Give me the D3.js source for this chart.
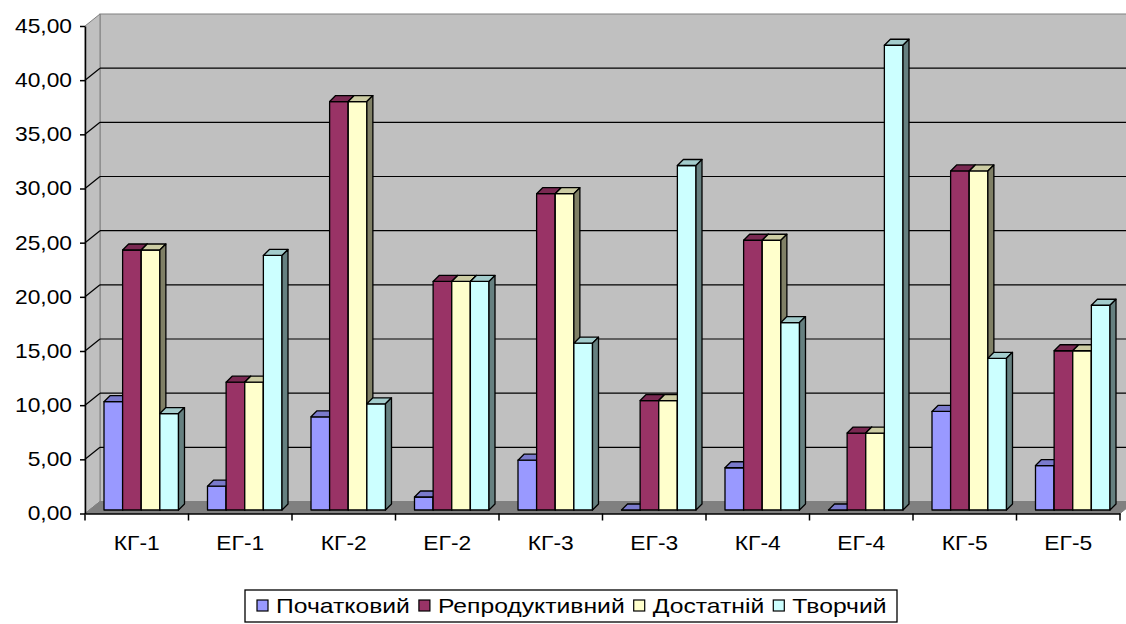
<!DOCTYPE html>
<html>
<head>
<meta charset="utf-8">
<script src="https://cdn.jsdelivr.net/npm/d3@7"></script>
<style>
  html, body { margin: 0; padding: 0; background: #ffffff; }
  svg { display: block; font-family: Arial, "Liberation Sans", sans-serif; }
</style>
</head>
<body>
<svg id="chart" width="1126" height="624"></svg>
<script>
// Groups: control (КГ) and experimental (ЕГ) groups, 1..5
const categories = ["КГ-1", "ЕГ-1", "КГ-2", "ЕГ-2", "КГ-3", "ЕГ-3", "КГ-4", "ЕГ-4", "КГ-5", "ЕГ-5"];
const seriesNames = ["Початковий", "Репродуктивний", "Достатній", "Творчий"];

// Share of students at each level, %
const initialLevel      = [10.0, 2.2, 8.6, 1.2, 4.6, 0.0, 3.9, 0.0, 9.1, 4.1];
const reproductiveLevel = [24.0, 11.8, 37.7, 21.1, 29.2, 10.1, 24.9, 7.1, 31.3, 14.7];
const sufficientLevel   = [24.0, 11.8, 37.7, 21.1, 29.2, 10.1, 24.9, 7.1, 31.3, 14.7];
const creativeLevel     = [8.9, 23.5, 9.8, 21.1, 15.4, 31.8, 17.3, 42.9, 14.0, 18.9];

const yTicks = [0, 5, 10, 15, 20, 25, 30, 35, 40, 45];

// Face colours: front, top, side
const palette = [
  { front: "#9999ff", top: "#7a7acc", side: "#4d4d80" },
  { front: "#993366", top: "#7a2952", side: "#4d1a33" },
  { front: "#ffffcc", top: "#cccca3", side: "#808066" },
  { front: "#ccffff", top: "#a3cccc", side: "#668080" }
];

const seriesValues = [initialLevel, reproductiveLevel, sufficientLevel, creativeLevel];

const svg = d3.select("#chart");

// Oblique projection settings
const WALL_DX = 15, WALL_DY = -12;     // depth of the walls/floor
const PLANE_DX = 4.5, PLANE_DY = -3.5; // plane where the bar fronts stand
const BAR_DX = 6, BAR_DY = -6;         // depth of each bar

// Text is drawn slightly widened
const FONT_SIZE = 20, STRETCH = 1.14;

const x = d3.scaleBand().domain(categories).range([85, 1120]).padding(0);
const groupPad = 14.5;
const xs = d3.scaleBand().domain(seriesNames).range([groupPad, x.bandwidth() - groupPad]).padding(0);
const y = d3.scaleLinear().domain([0, 45]).range([513.5, 26]);

const x0 = x.range()[0], x1 = x.range()[1];
const yBase = y(0), yTop = y(45);

const fmt = v => d3.format(".2f")(v).replace(".", ",");

const poly = pts => pts.map(p => p.join(",")).join(" ");

// Back wall
svg.append("rect")
  .attr("x", x0 + WALL_DX).attr("y", yTop + WALL_DY)
  .attr("width", x1 - x0).attr("height", yBase - yTop)
  .attr("fill", "#c0c0c0").attr("stroke", "#808080").attr("stroke-width", 1);

// Side wall
svg.append("polygon")
  .attr("points", poly([[x0, yTop], [x0 + WALL_DX, yTop + WALL_DY], [x0 + WALL_DX, yBase + WALL_DY], [x0, yBase]]))
  .attr("fill", "#c0c0c0").attr("stroke", "#808080").attr("stroke-width", 1);

// Gridlines on the back wall and the side wall
const grid = svg.append("g").attr("class", "grid");
yTicks.filter(t => t > 0 && t < 45).forEach(t => {
  grid.append("line")
    .attr("x1", x0 + WALL_DX).attr("x2", x1 + WALL_DX)
    .attr("y1", y(t) + WALL_DY).attr("y2", y(t) + WALL_DY)
    .attr("stroke", "#000").attr("stroke-width", 1.2);
  grid.append("line")
    .attr("x1", x0).attr("x2", x0 + WALL_DX)
    .attr("y1", y(t)).attr("y2", y(t) + WALL_DY)
    .attr("stroke", "#000").attr("stroke-width", 1.2);
});

// Floor
svg.append("polygon")
  .attr("points", poly([[x0, yBase], [x0 + WALL_DX, yBase + WALL_DY], [x1 + WALL_DX, yBase + WALL_DY], [x1, yBase]]))
  .attr("fill", "#808080").attr("stroke", "#808080").attr("stroke-width", 1);

// Bars, drawn left to right so each front face hides the neighbour's side
const bars = svg.append("g").attr("class", "bars");
categories.forEach((cat, ci) => {
  seriesNames.forEach((name, si) => {
    const v = seriesValues[si][ci];
    const c = palette[si];
    const left = x(cat) + xs(name) + PLANE_DX;
    const right = left + xs.bandwidth();
    const bottom = y(0) + PLANE_DY;
    const top = y(v) + PLANE_DY;
    const g = bars.append("g");
    g.append("polygon")
      .attr("points", poly([[left, top], [right, top], [right, bottom], [left, bottom]]))
      .attr("fill", c.front).attr("stroke", "#000").attr("stroke-width", 1.3).attr("stroke-linejoin", "round");
    g.append("polygon")
      .attr("points", poly([[left, top], [left + BAR_DX, top + BAR_DY], [right + BAR_DX, top + BAR_DY], [right, top]]))
      .attr("fill", c.top).attr("stroke", "#000").attr("stroke-width", 1.3).attr("stroke-linejoin", "round");
    g.append("polygon")
      .attr("points", poly([[right, top], [right + BAR_DX, top + BAR_DY], [right + BAR_DX, bottom + BAR_DY], [right, bottom]]))
      .attr("fill", c.side).attr("stroke", "#000").attr("stroke-width", 1.3).attr("stroke-linejoin", "round");
  });
});

// Value axis
const yAxis = svg.append("g")
  .attr("transform", `translate(${x0},0)`)
  .call(d3.axisLeft(y).tickValues(yTicks).tickFormat(fmt).tickSize(5).tickSizeOuter(0).tickPadding(8));
yAxis.select(".domain").attr("stroke", "#000").attr("stroke-width", 1.5);
yAxis.selectAll(".tick line").attr("stroke", "#000").attr("stroke-width", 1.5);
yAxis.selectAll(".tick text")
  .attr("font-size", FONT_SIZE).attr("fill", "#000")
  .attr("font-family", "Arial, 'Liberation Sans', sans-serif")
  .attr("x", -13 / STRETCH)
  .attr("transform", `scale(${STRETCH},1)`);

// Category axis
const xAxis = svg.append("g")
  .attr("transform", `translate(0,${yBase})`)
  .call(d3.axisBottom(x).tickSize(0).tickSizeOuter(0).tickPadding(22));
xAxis.select(".domain").attr("stroke", "#000").attr("stroke-width", 1.5);
xAxis.selectAll(".tick text")
  .attr("font-size", FONT_SIZE).attr("fill", "#000")
  .attr("font-family", "Arial, 'Liberation Sans', sans-serif")
  .attr("transform", `scale(${STRETCH},1)`);
xAxis.selectAll(".boundary")
  .data(categories.map(c => x(c)).concat([x1]))
  .join("line")
  .attr("class", "boundary")
  .attr("x1", d => d).attr("x2", d => d)
  .attr("y1", 0).attr("y2", 7)
  .attr("stroke", "#000").attr("stroke-width", 1.5);

// Legend: entries are spread so the text fills the framed box
const legend = svg.append("g").attr("class", "legend");
const LEG_X = 245, LEG_Y = 590, LEG_W = 652, LEG_H = 32;
const SW = 11, SW_GAP = 8, ITEM_GAP = 9, LEG_PAD_L = 12, LEG_PAD_R = 10;
legend.append("rect")
  .attr("x", LEG_X).attr("y", LEG_Y).attr("width", LEG_W).attr("height", LEG_H)
  .attr("fill", "#fff").attr("stroke", "#000").attr("stroke-width", 1.3);
const labels = seriesNames.map(name => legend.append("text")
  .attr("font-size", FONT_SIZE).attr("fill", "#000").text(name));
const rawWidth = d3.sum(labels, t => t.node().getComputedTextLength());
const avail = LEG_W - LEG_PAD_L - LEG_PAD_R - seriesNames.length * (SW + SW_GAP) - (seriesNames.length - 1) * ITEM_GAP;
const legStretch = avail / rawWidth;
let lx = LEG_X + LEG_PAD_L;
seriesNames.forEach((name, i) => {
  legend.append("rect")
    .attr("x", lx).attr("y", LEG_Y + 10).attr("width", SW).attr("height", SW)
    .attr("fill", palette[i].front).attr("stroke", "#000").attr("stroke-width", 1.2);
  lx += SW + SW_GAP;
  labels[i].attr("transform", `translate(${lx},${LEG_Y + 23}) scale(${legStretch},1)`);
  lx += labels[i].node().getComputedTextLength() * legStretch + ITEM_GAP;
});
</script>
</body>
</html>
